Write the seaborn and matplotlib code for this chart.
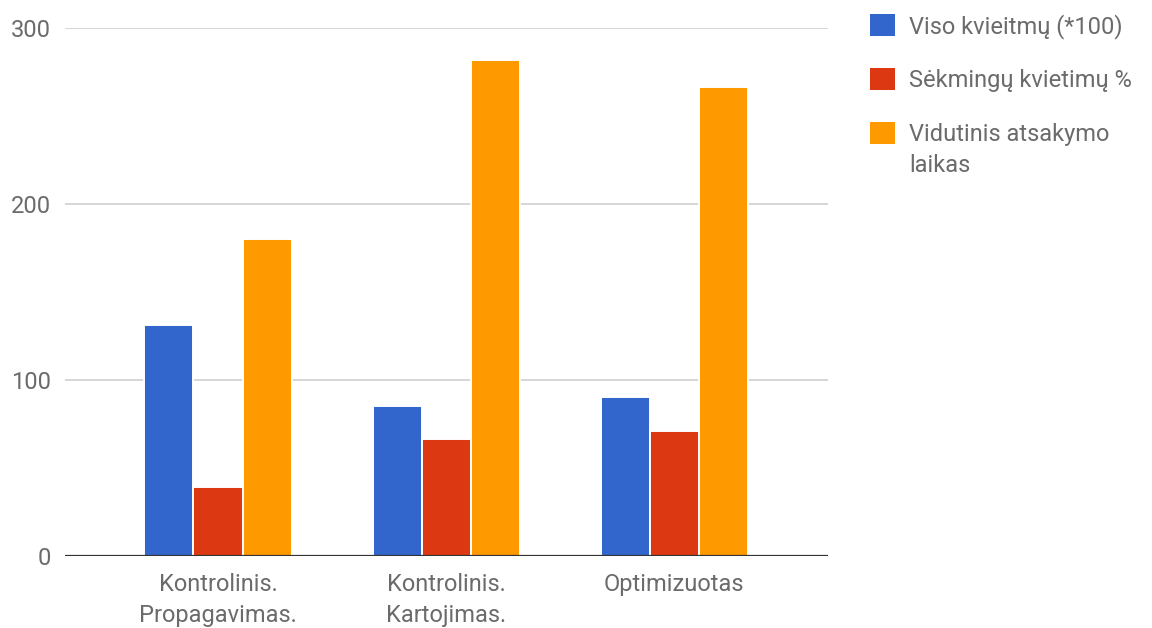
import matplotlib
matplotlib.use("Agg")
import matplotlib.pyplot as plt
import seaborn as sns
import pandas as pd

# Data
categories = ["Kontrolinis.\nPropagavimas.", "Kontrolinis.\nKartojimas.", "Optimizuotas"]
series_names = ["Viso kvieitmų (*100)", "Sėkmingų kvietimų %", "Vidutinis atsakymo laikas"]
total_calls = [131.5, 85.5, 90.3]
success_pct = [39.4, 66.5, 71.2]
avg_response = [180, 281.7, 266.3]
y_ticks = [0, 100, 200, 300]

colors = ["#3366CC", "#DC3912", "#FF9900"]
text_color = "#6b6b6b"

rows = []
for name, vals in zip(series_names, [total_calls, success_pct, avg_response]):
    for cat, v in zip(categories, vals):
        rows.append({"category": cat, "series": name, "value": v})
df = pd.DataFrame(rows)

sns.set_theme(style="white")
plt.rcParams["font.family"] = ["Roboto", "DejaVu Sans"]

fig = plt.figure(figsize=(11.52, 6.28), dpi=100)
ax = fig.add_axes([65 / 1152, 1 - 556 / 628, (828 - 65) / 1152, (556 - 28) / 628])

sns.barplot(data=df, x="category", y="value", hue="series", order=categories,
            hue_order=series_names, palette=colors, width=0.645, saturation=1,
            edgecolor="white", linewidth=1.4, ax=ax, zorder=3)

ax.set_xlim(-0.671, 2.675)
ax.set_ylim(0, 300)
ax.set_yticks(y_ticks)
ax.set_yticklabels([str(t) for t in y_ticks])
ax.set_xlabel("")
ax.set_ylabel("")

for t in y_ticks[1:]:
    ax.axhline(t, color="#d0d0d0", linewidth=1.2, zorder=0)
ax.axhline(0, color="#333333", linewidth=1.6, zorder=4)

for side in ["top", "right", "left", "bottom"]:
    ax.spines[side].set_visible(False)
ax.tick_params(axis="both", length=0, labelsize=17, colors=text_color)
ax.tick_params(axis="y", pad=10)
ax.tick_params(axis="x", pad=12)
for lbl in ax.get_xticklabels():
    lbl.set_linespacing(1.45)

leg = ax.legend(loc="upper left", bbox_to_anchor=(870 / 1152, 1 - 14 / 628),
                bbox_transform=fig.transFigure, frameon=False, fontsize=17,
                handlelength=1.05, handleheight=1.05, handletextpad=0.6,
                labelspacing=1.25, borderaxespad=0, borderpad=0)
for h in leg.legend_handles:
    h.set_edgecolor("none")

# wrap long legend labels: the first line stays next to the swatch,
# the rest continues underneath
wrap_at = 20
for t in leg.get_texts():
    t.set_color(text_color)
    full = t.get_text()
    if len(full) > wrap_at:
        head, tail = full.rsplit(" ", 1)
        t.set_text(head)
        ax.annotate(tail, xy=(0, 0.5), xycoords=t, xytext=(0, -22.5),
                    textcoords="offset points", ha="left", va="center",
                    fontsize=17, color=text_color, zorder=10,
                    annotation_clip=False)

fig.savefig("out.png", dpi=100)
